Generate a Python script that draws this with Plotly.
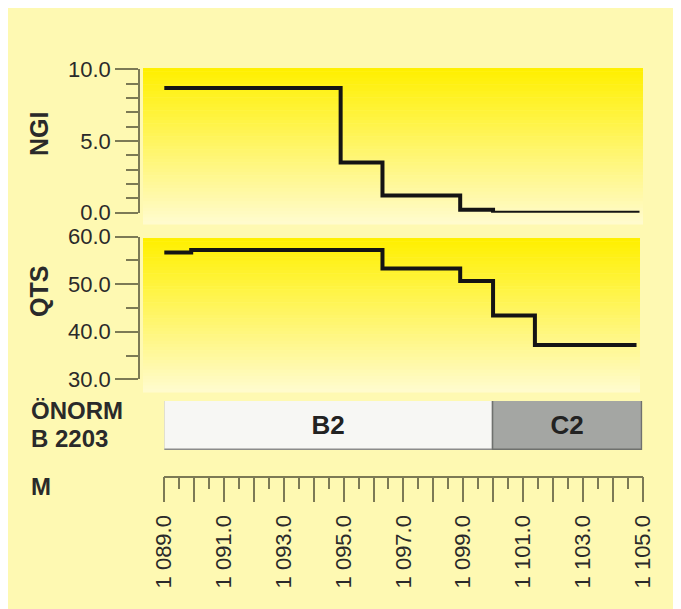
import plotly.graph_objects as go

# The page body adds an 8px margin, so the figure is laid out in reference pixel
# coordinates shifted by OFF.
OFF = 8
W, H = 681 - OFF, 609 - OFF

# ---------------- data ----------------
depth_ngi = [1089.0, 1094.9, 1096.3, 1098.9, 1100.0, 1104.9]
ngi_vals = [8.7, 3.5, 1.2, 0.2, 0.0, 0.0]

depth_qts = [1089.0, 1089.9, 1096.3, 1098.9, 1100.0, 1101.4, 1104.8]
qts_vals = [56.7, 57.2, 53.3, 50.7, 43.4, 37.2, 37.2]

norm_classes = ["B2", "C2"]
norm_start = [1089.0, 1100.0]
norm_end = [1100.0, 1105.0]

ngi_tickvals = [0, 5, 10]
ngi_ticktext = ["0.0", "5.0", "10.0"]
qts_tickvals = [30, 40, 50, 60]
qts_ticktext = ["30.0", "40.0", "50.0", "60.0"]

depth_tickvals = [1089, 1090, 1091, 1092, 1093, 1094, 1095, 1096, 1097,
                  1098, 1099, 1100, 1101, 1102, 1103, 1104, 1105]
depth_ticktext = ["1 089.0", "", "1 091.0", "", "1 093.0", "", "1 095.0", "",
                  "1 097.0", "", "1 099.0", "", "1 101.0", "", "1 103.0", "",
                  "1 105.0"]

# ---------------- helpers ----------------
def fx(px):
    return (px - OFF) / W


def fy(py):
    return 1 - (py - OFF) / H


FONT = "Liberation Sans, Arial, sans-serif"
AXC = "#7c7a55"
TXT = "#2a2a2a"
BG = "#fef9b2"

fig = go.Figure()

# step lines
fig.add_trace(go.Scatter(x=depth_ngi, y=ngi_vals, mode="lines", line_shape="hv",
                         line=dict(color="#141414", width=4), xaxis="x", yaxis="y",
                         hoverinfo="skip", showlegend=False))
fig.add_trace(go.Scatter(x=depth_qts, y=qts_vals, mode="lines", line_shape="hv",
                         line=dict(color="#141414", width=4), xaxis="x2", yaxis="y2",
                         hoverinfo="skip", showlegend=False))

# ÖNORM classification bar
fig.add_trace(go.Bar(
    orientation="h",
    y=[0] * len(norm_classes),
    x=[e - s for s, e in zip(norm_start, norm_end)],
    base=norm_start,
    width=1,
    marker=dict(color=["#f7f7f4", "#a4a6a3"],
                line=dict(color=["#8c8c8a", "#6f716e"], width=1.5)),
    text=norm_classes,
    textposition="inside",
    insidetextanchor="middle",
    textfont=dict(family=FONT, size=26, color="#222222", weight="bold"),
    xaxis="x3", yaxis="y3", hoverinfo="skip", showlegend=False,
))

# invisible trace to carry the depth ruler axis
fig.add_trace(go.Scatter(x=depth_tickvals, y=[0] * len(depth_tickvals), mode="markers",
                         marker=dict(opacity=0), xaxis="x4", yaxis="y4",
                         hoverinfo="skip", showlegend=False))

# ---------------- background gradients ----------------
shapes = []


def gradient(top, bottom, left, right, n=48):
    c0 = (255, 240, 0)
    c1 = (255, 251, 205)
    out = []
    for i in range(n):
        t = i / (n - 1)
        c = tuple(round(a + (b - a) * t) for a, b in zip(c0, c1))
        y0 = top + (bottom - top) * i / n
        y1 = top + (bottom - top) * (i + 1) / n
        out.append(dict(type="rect", xref="paper", yref="paper",
                        x0=fx(left), x1=fx(right), y0=fy(y1 + 0.5), y1=fy(y0),
                        fillcolor="rgb(%d,%d,%d)" % c, line=dict(width=0),
                        layer="below"))
    return out


shapes += gradient(68, 224, 143, 643)
shapes += gradient(238, 392, 143, 640)

# ---------------- annotations ----------------
ann = [
    dict(text="<b>NGI</b>", x=fx(39), y=fy(134), textangle=-90, xanchor="center", size=25),
    dict(text="<b>QTS</b>", x=fx(39), y=fy(292), textangle=-90, xanchor="center", size=25),
    dict(text="<b>ÖNORM</b>", x=fx(29), y=fy(410), xanchor="left", size=24),
    dict(text="<b>B 2203</b>", x=fx(29), y=fy(438), xanchor="left", size=24),
    dict(text="<b>M</b>", x=fx(29), y=fy(486), xanchor="left", size=24),
]
for a in ann:
    sz = a.pop("size")
    a.update(xref="paper", yref="paper", showarrow=False, yanchor="middle",
             font=dict(family=FONT, size=sz, color=TXT))

# ---------------- axes ----------------
px_per_unit = (642.5 - 164.3) / 16.0
panel_range = [1089 - (164.3 - 140) / px_per_unit, 1089 + (643 - 164.3) / px_per_unit]

hidden_x = dict(visible=False, range=panel_range, domain=[fx(140), fx(643)],
                automargin=False)

yaxis_common = dict(showline=True, linecolor=AXC, linewidth=1.5, ticks="outside",
                    tickcolor=AXC, tickwidth=1.5, ticklen=23, showgrid=False,
                    zeroline=False, tickfont=dict(family=FONT, size=22, color=TXT),
                    fixedrange=True, automargin=False)

fig.update_layout(
    template="none",
    width=W, height=H,
    margin=dict(l=0, r=0, t=0, b=0, pad=0, autoexpand=False),
    paper_bgcolor=BG,
    plot_bgcolor="rgba(0,0,0,0)",
    barmode="overlay",
    bargap=0,
    showlegend=False,
    shapes=shapes,
    annotations=ann,
    xaxis=dict(hidden_x, anchor="y"),
    yaxis=dict(yaxis_common, domain=[fy(212.7), fy(69.3)], range=[0, 10],
               tickvals=ngi_tickvals, ticktext=ngi_ticktext, anchor="x",
               minor=dict(dtick=1, ticklen=12, tickcolor=AXC, tickwidth=1.5, ticks="outside")),
    xaxis2=dict(hidden_x, anchor="y2"),
    yaxis2=dict(yaxis_common, domain=[fy(379.3), fy(236.7)], range=[30, 60],
                tickvals=qts_tickvals, ticktext=qts_ticktext, anchor="x2",
                minor=dict(dtick=5, ticklen=12, tickcolor=AXC, tickwidth=1.5, ticks="outside")),
    xaxis3=dict(visible=False, range=[1089, 1105], domain=[fx(164.3), fx(642.5)],
                anchor="y3", automargin=False),
    yaxis3=dict(visible=False, range=[-0.5, 0.5], domain=[fy(450), fy(401)],
                anchor="x3", automargin=False),
    xaxis4=dict(range=[1089, 1105], domain=[fx(164.3), fx(642.5)], anchor="y4",
                showline=True, linecolor=AXC, linewidth=1.5, ticks="outside",
                tickcolor=AXC, tickwidth=1.5, ticklen=25, showgrid=False, zeroline=False,
                tickvals=depth_tickvals, ticktext=depth_ticktext, tickangle=-90,
                ticklabelstandoff=4,
                tickfont=dict(family=FONT, size=22, color=TXT),
                minor=dict(dtick=0.5, ticklen=12, tickcolor=AXC, tickwidth=1.5, ticks="outside"),
                fixedrange=True, automargin=False),
    yaxis4=dict(visible=False, domain=[fy(475.5), fy(470)], range=[-1, 1], anchor="x4",
                automargin=False),
)

fig.write_html("out.html", config={"displayModeBar": False})
